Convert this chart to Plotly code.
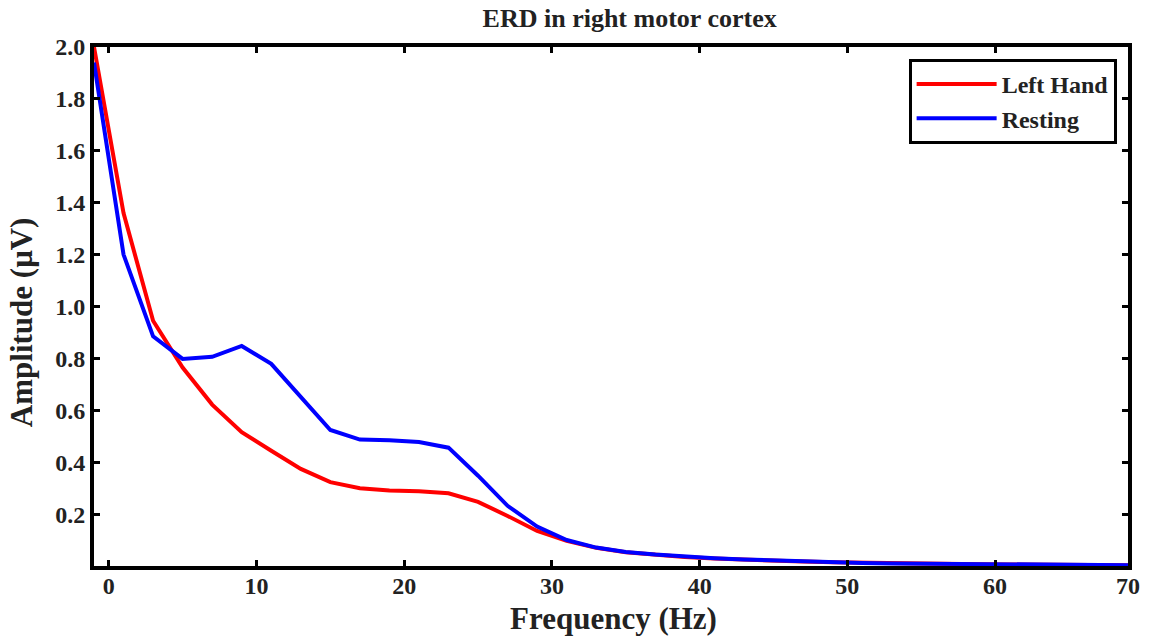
import plotly.graph_objects as go

freq = [-1, 1, 3, 5, 7, 9, 11, 13, 15, 17, 19, 21, 23, 25, 27, 29, 31, 33, 35,
        37, 39, 41, 43, 45, 47, 49, 51, 53, 55, 57, 59, 61, 63, 65, 67, 69]
left_hand = [2.0, 1.36, 0.945, 0.765, 0.622, 0.516, 0.444, 0.374, 0.323, 0.300,
             0.291, 0.288, 0.280, 0.247, 0.193, 0.135, 0.097, 0.070, 0.053,
             0.043, 0.035, 0.029, 0.024, 0.020, 0.017, 0.014, 0.012, 0.010,
             0.009, 0.008, 0.007, 0.006, 0.005, 0.004, 0.004, 0.003]
resting = [1.94, 1.20, 0.885, 0.798, 0.806, 0.848, 0.779, 0.652, 0.524, 0.487,
           0.485, 0.478, 0.456, 0.348, 0.232, 0.152, 0.100, 0.071, 0.054,
           0.044, 0.036, 0.030, 0.025, 0.021, 0.017, 0.014, 0.012, 0.010,
           0.009, 0.008, 0.007, 0.006, 0.005, 0.004, 0.004, 0.003]

x_tick_vals = [0, 10, 20, 30, 40, 50, 60, 69]
x_tick_text = ["0", "10", "20", "30", "40", "50", "60", "70"]
y_tick_vals = [0.2, 0.4, 0.6, 0.8, 1.0, 1.2, 1.4, 1.6, 1.8, 2.0]

FONT = "Liberation Serif, Times New Roman, serif"

fig = go.Figure()
fig.add_trace(go.Scatter(x=freq, y=left_hand, mode="lines", name="Left Hand",
                         line=dict(color="#ff0000", width=4)))
fig.add_trace(go.Scatter(x=freq, y=resting, mode="lines", name="Resting",
                         line=dict(color="#0000ff", width=4)))

axis_common = dict(
    showline=True, linecolor="black", linewidth=4, mirror="allticks",
    ticks="inside", ticklen=6, tickwidth=3, tickcolor="black",
    showgrid=False, zeroline=False,
    tickfont=dict(family=FONT, size=24, color="#222", weight="bold"),
)

fig.update_layout(
    width=1151, height=641,
    margin=dict(l=94, r=23, t=47, b=75),
    paper_bgcolor="white", plot_bgcolor="white",
    title=dict(text="ERD in right motor cortex", x=0.518, xref="paper",
               xanchor="center", y=0.972, yanchor="middle",
               font=dict(family=FONT, size=26, color="#222", weight="bold")),
    xaxis=dict(range=[-1, 69], tickvals=x_tick_vals, ticktext=x_tick_text,
               ticklabelstandoff=-5, **axis_common),
    yaxis=dict(range=[0, 2.0], tickvals=y_tick_vals, tickformat=".1f",
               **axis_common),
    legend=dict(x=0.989, y=0.977, xanchor="right", yanchor="top",
                bordercolor="black", borderwidth=3, bgcolor="white",
                itemwidth=80,
                font=dict(family=FONT, size=24, color="#222", weight="bold"),
                tracegroupgap=0),
    showlegend=True,
    annotations=[
        dict(text="Frequency (Hz)", xref="paper", yref="paper",
             x=0.502, y=-0.102, xanchor="center", yanchor="middle",
             showarrow=False,
             font=dict(family=FONT, size=31, color="#222", weight="bold")),
        dict(text="Amplitude (μV)", xref="paper", yref="paper",
             x=-0.0705, y=0.47, xanchor="center", yanchor="middle",
             textangle=-90, showarrow=False,
             font=dict(family=FONT, size=31, color="#222", weight="bold")),
    ],
)

fig.write_html("out.html")
